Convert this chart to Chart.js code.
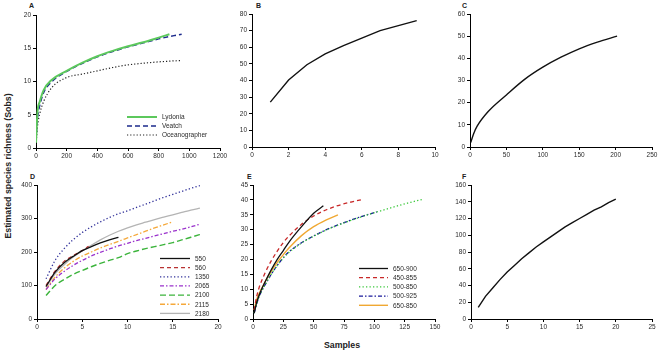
<!DOCTYPE html>
<html>
<head>
<meta charset="utf-8">
<script src="https://cdn.jsdelivr.net/npm/chart.js@4.4.0/dist/chart.umd.min.js"></script>
<style>
  body { margin: 0; width: 661px; height: 354px; background: #fff; position: relative; overflow: hidden;
         font-family: "Liberation Sans", Arial, sans-serif; }
  .panel { position: absolute; }
  .letter { position: absolute; font-size: 7px; font-weight: bold; color: #222; }
  .axtitle { position: absolute; font-size: 8.8px; font-weight: bold; color: #222; white-space: nowrap; }
</style>
</head>
<body>
<div class="letter" style="left:29px;top:2px">A</div>
<div class="letter" style="left:256px;top:2px">B</div>
<div class="letter" style="left:462px;top:2px">C</div>
<div class="letter" style="left:30px;top:173px">D</div>
<div class="letter" style="left:247px;top:173px">E</div>
<div class="letter" style="left:462px;top:173px">F</div>
<div class="axtitle" id="ytitle" style="left:8px;top:166px;transform:translate(-50%,-50%) rotate(-90deg)">Estimated species richness (Sobs)</div>
<div class="axtitle" style="left:342px;top:345px;transform:translate(-50%,-50%)">Samples</div>

<script>
// ================= Dữ liệu =================
// A
const lydoniaX = [0, 5, 10, 25, 50, 100, 200, 300, 400, 500, 600, 700, 800, 870];
const lydonia  = [0.8, 3.5, 5.5, 7, 8.7, 10.2, 11.6, 12.8, 13.8, 14.6, 15.3, 15.9, 16.6, 17.1];
const veatchX  = [0, 5, 10, 25, 50, 100, 200, 300, 400, 500, 600, 700, 800, 900, 950];
const veatch   = [1, 3, 4.5, 6.4, 8.3, 9.9, 11.5, 12.7, 13.7, 14.5, 15.2, 15.8, 16.4, 16.9, 17.1];
const oceanX   = [0, 5, 10, 25, 50, 100, 200, 300, 400, 500, 600, 700, 800, 900, 950];
const ocean    = [0.5, 2, 3.3, 5.2, 7, 9, 10.6, 11.1, 11.6, 12.1, 12.5, 12.75, 12.95, 13.1, 13.15];
// B
const bX = [1, 2, 3, 4, 5, 6, 7, 8, 9];
const bY = [27, 40.3, 49.5, 56, 61, 65.5, 70, 73, 76];
// C
const cX = [1, 5, 10, 25, 50, 75, 100, 125, 150, 175, 202];
const cY = [2, 6, 9.5, 16, 23.5, 30.5, 36, 40.5, 44.3, 47.3, 50];
// D
const dX = [1, 2, 3, 4, 5, 6, 7, 8, 9, 10, 11, 12, 13, 14, 15, 16, 17, 18];
const d550  = [97, 140, 168, 187, 204, 216, 227, 236, 244];
const d560X = [1, 2, 3, 4, 5, 5.7];
const d560  = [100, 143, 172, 189, 204, 217];
const d1350 = [120, 175, 210, 237, 258, 275, 290, 303, 314, 323, 333, 343, 353, 363, 372, 381, 390, 398];
const d2065 = [88, 120, 142, 160, 175, 188, 199, 209, 218, 226, 234, 241, 248, 255, 262, 268, 275, 283];
const d2100 = [70, 100, 118, 133, 145, 156, 166, 175, 183, 195, 203, 210, 216, 222, 228, 236, 244, 252];
const d2115 = [88, 125, 152, 172, 188, 200, 212, 222, 232, 242, 252, 262, 272, 281, 290];
const d2180 = [95, 135, 162, 185, 203, 220, 236, 250, 262, 272, 281, 289, 297, 304, 311, 318, 325, 331];
// E
const e650900X = [1, 3, 5, 10, 15, 20, 25, 30, 40, 50, 58];
const e650900  = [2, 5.5, 8, 12.5, 16.5, 20, 23, 26, 31, 35.5, 38];
const e450855X = [1, 3, 5, 10, 15, 20, 25, 30, 40, 50, 60, 70, 80, 90];
const e450855  = [3, 7.5, 10.5, 15.5, 19.5, 22.8, 25.7, 28, 31.8, 34.6, 36.6, 38.1, 39.2, 40.1];
const e500850X = [1, 3, 5, 10, 15, 20, 25, 30, 40, 50, 60, 70, 80, 90, 100, 110, 120, 130, 140];
const e500850  = [2, 5, 7.5, 11.5, 15, 18, 20.5, 22.5, 25.5, 27.8, 29.8, 31.5, 33, 34.4, 35.7, 36.9, 38.1, 39.2, 40.2];
const e500925X = [1, 3, 5, 10, 15, 20, 25, 30, 40, 50, 60, 70, 80, 90, 102];
const e500925  = [2, 5, 7.5, 11.5, 15, 18, 20.6, 22.7, 25.6, 27.9, 29.9, 31.6, 33.1, 34.5, 36];
const e650850X = [1, 3, 5, 10, 15, 20, 25, 30, 40, 50, 60, 70];
const e650850  = [3, 6.5, 8.5, 12.5, 16, 19, 21.6, 24, 28, 31, 33.2, 35];
// F
const fX = [1, 2, 3, 4, 5, 6, 7, 8, 9, 10, 11, 12, 13, 14, 15, 16, 17, 18, 19, 20];
const fY = [14, 27, 37, 47, 56, 64, 72, 79, 86, 92, 98, 104, 110, 115, 120, 125, 130, 134, 139, 143];

// ================= Tiện ích =================
const pts = (xs, ys) => ys.map((y, i) => ({ x: xs[i], y }));
const PADL = 36, PADT = 12, PADR = 16, PADB = 20;
const TICK_FONT = { family: '"Liberation Sans", Arial, sans-serif', size: 6.5 };

// chú thích nằm trong vùng biểu đồ
const insideLegend = {
  id: 'insideLegend',
  afterDatasetsDraw(chart, args, opts) {
    if (!opts.show) return;
    const ctx = chart.ctx, a = chart.chartArea;
    ctx.save();
    ctx.font = '6.5px "Liberation Sans", Arial, sans-serif';
    ctx.textBaseline = 'middle';
    chart.data.datasets.forEach((ds, i) => {
      const x = a.left + opts.x, y = a.top + opts.y + i * opts.gap;
      ctx.strokeStyle = ds.borderColor;
      ctx.lineWidth = ds.borderWidth;
      ctx.setLineDash(ds.borderDash || []);
      ctx.beginPath(); ctx.moveTo(x, y); ctx.lineTo(x + opts.len, y); ctx.stroke();
      ctx.setLineDash([]);
      ctx.fillStyle = '#2a2a2a';
      ctx.fillText(ds.label, x + opts.len + 5, y + 0.5);
    });
    ctx.restore();
  }
};

function makePanel(box, xr, yr, datasets, legend) {
  const div = document.createElement('div');
  div.className = 'panel';
  const w = box.R - box.L + PADL + PADR, h = box.B - box.T + PADT + PADB;
  div.style.left = (box.L - PADL) + 'px';
  div.style.top = (box.T - PADT) + 'px';
  div.style.width = w + 'px';
  div.style.height = h + 'px';
  const cv = document.createElement('canvas');
  div.appendChild(cv);
  document.body.appendChild(div);

  const axis = (r, isX) => ({
    type: 'linear',
    min: r[0], max: r[1],
    ticks: { stepSize: r[2], color: '#2a2a2a', font: TICK_FONT, padding: isX ? 1 : 2,
             autoSkip: false, maxRotation: 0, callback: v => String(v) },
    grid: { drawOnChartArea: false, drawTicks: true, tickLength: 3, color: '#000', lineWidth: 1 },
    border: { color: '#000', width: 1 },
    afterFit(s) { if (isX) s.height = PADB; else s.width = PADL; }
  });

  return new Chart(cv, {
    type: 'line',
    data: { datasets },
    options: {
      responsive: true,
      maintainAspectRatio: false,
      animation: false,
      layout: { padding: { top: PADT, right: PADR, left: 0, bottom: 0 }, autoPadding: false },
      elements: { point: { radius: 0 }, line: { cubicInterpolationMode: 'monotone' } },
      plugins: { legend: { display: false }, tooltip: { enabled: false },
                 insideLegend: legend || { show: false } },
      scales: { x: axis(xr, true), y: axis(yr, false) }
    },
    plugins: [insideLegend]
  });
}

const line = (label, data, color, width, dash) => ({
  label, data, borderColor: color, borderWidth: width, borderDash: dash || [], fill: false
});

// ================= Vẽ 6 biểu đồ =================
window.addEventListener('DOMContentLoaded', () => {
  makePanel({ L: 36, T: 15, R: 220, B: 148 }, [0, 1200, 200], [0, 20, 5], [
    line('Lydonia', pts(lydoniaX, lydonia), '#5cc85c', 2),
    line('Veatch', pts(veatchX, veatch), '#1c2a8c', 1.4, [5, 3]),
    line('Oceanographer', pts(oceanX, ocean), '#222', 1.2, [1.2, 2])
  ], { show: true, x: 91, y: 102, gap: 9, len: 30 });

  makePanel({ L: 252, T: 14, R: 435, B: 147 }, [0, 10, 2], [0, 80, 10], [
    { ...line('B', pts(bX, bY), '#111', 1.4), cubicInterpolationMode: 'default', tension: 0 }
  ]);

  makePanel({ L: 470, T: 14, R: 652, B: 147 }, [0, 250, 50], [0, 60, 10], [
    line('C', pts(cX, cY), '#111', 1.4)
  ]);

  makePanel({ L: 37, T: 185, R: 218, B: 319 }, [0, 20, 5], [0, 400, 100], [
    line('550', pts(dX, d550), '#111', 1.3),
    line('560', pts(d560X, d560), '#b83232', 1.3, [4, 3]),
    line('1350', pts(dX, d1350), '#32329a', 1.3, [1.3, 2.2]),
    line('2065', pts(dX, d2065), '#9a32cc', 1.3, [4, 2, 1.5, 2]),
    line('2100', pts(dX, d2100), '#3cb43c', 1.4, [6, 3]),
    line('2115', pts(dX, d2115), '#f5a83a', 1.3, [5, 2, 1.5, 2]),
    line('2180', pts(dX, d2180), '#b4b4b4', 1.3)
  ], { show: true, x: 123, y: 73.5, gap: 9.15, len: 30 });

  makePanel({ L: 253, T: 185, R: 435, B: 319 }, [0, 150, 25], [0, 45, 5], [
    line('650-900', pts(e650900X, e650900), '#111', 1.3),
    line('450-855', pts(e450855X, e450855), '#c82828', 1.3, [4, 3]),
    line('500-850', pts(e500850X, e500850), '#3cc83c', 1.3, [1.3, 2.2]),
    line('500-925', pts(e500925X, e500925), '#1a1a9a', 1.3, [4, 2, 1.5, 2]),
    line('650-850', pts(e650850X, e650850), '#f0a832', 1.4)
  ], { show: true, x: 106, y: 83.5, gap: 9.2, len: 29 });

  makePanel({ L: 471, T: 185, R: 652, B: 319 }, [0, 25, 5], [0, 160, 20], [
    { ...line('F', pts(fX, fY), '#111', 1.4), cubicInterpolationMode: 'default', tension: 0 }
  ]);
});
</script>
</body>
</html>
